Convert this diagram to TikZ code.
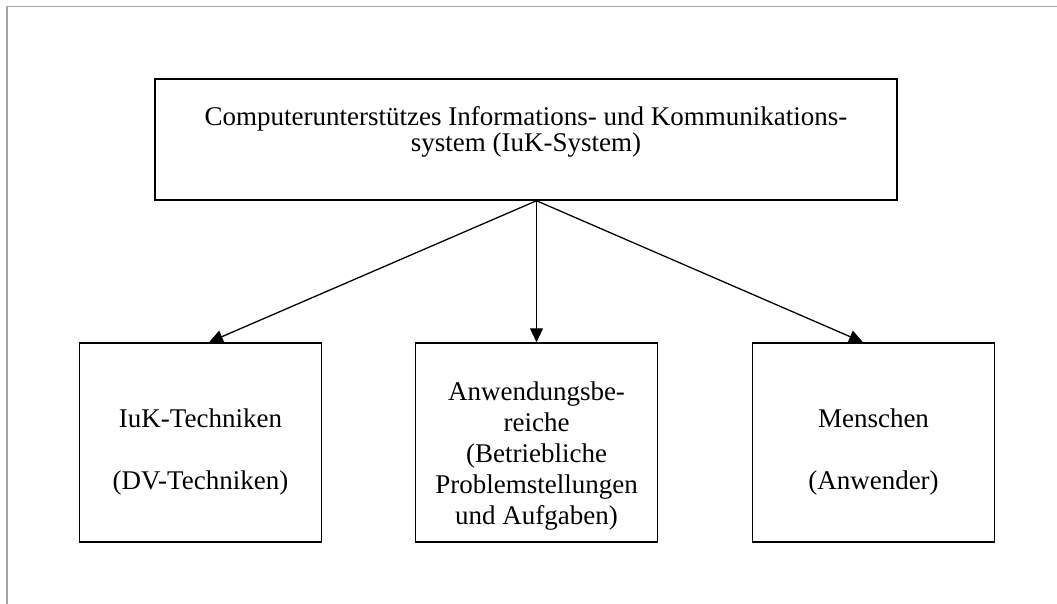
\documentclass[tikz,border=0pt]{standalone}
\usepackage{fontspec}
\setmainfont{Liberation Serif}
\usetikzlibrary{arrows.meta}

\tikzset{
  box/.style={draw, line width=1.5pt, minimum width=242pt, minimum height=199pt,
    align=center, font=\fontsize{27}{31}\selectfont},
  link/.style={line width=1.3pt, -{Triangle[length=14pt,width=13pt]}},
}

\begin{document}
\begin{tikzpicture}[x=1pt,y=-1pt]
   \useasboundingbox (0,0) rectangle (1057,604);
   \draw[gray!70, line width=1.4pt] (1057,6.5) -- (7,6.5) -- (7,604);

   % struts move the text off the middle of its box
   \node[box, minimum width=742pt, minimum height=121pt, font=\fontsize{27}{26}\selectfont]
        (sys) at (526,139.5)
        {Computerunterstützes Informations- und Kommunikations-\\system (IuK-System)\rule[-22pt]{0pt}{0pt}} ; %
   \node[box] (tech) at (200.5,442.5) {\rule{0pt}{38pt}IuK-Techniken\\[31pt](DV-Techniken)} ; %
   \node[box] (bereich) at (536.5,442.5)
        {\rule{0pt}{45pt}Anwendungsbe-\\reiche\\(Betriebliche\\Problemstellungen\\und Aufgaben)} ; %
   \node[box] (mensch) at (873.5,442.5) {\rule{0pt}{38pt}Menschen\\[31pt](Anwender)} ; %

   \coordinate (fork) at (sys.south -| bereich) ;

   \draw[link] (fork) -- ([xshift=8.5pt]tech.north) ;
   \draw[link] (fork) -- (bereich.north) ;
   \draw[link] (fork) -- ([xshift=-10.5pt]mensch.north) ;

\end{tikzpicture}
\end{document}
